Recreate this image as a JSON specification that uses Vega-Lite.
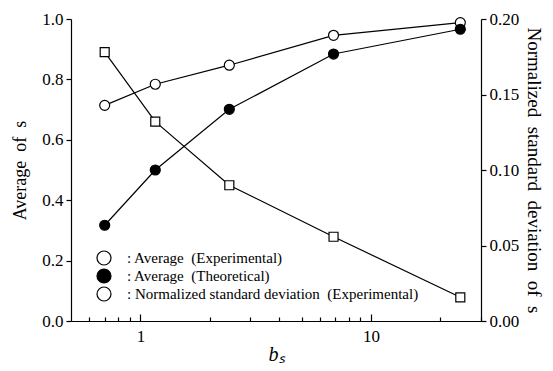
{
  "$schema": "https://vega.github.io/schema/vega-lite/v6.json",
  "autosize": {"type": "none"},
  "width": 410,
  "height": 302,
  "padding": {"left": 71, "top": 19, "right": 72, "bottom": 50},
  "background": "white",
  "config": {
    "view": {"stroke": null},
    "font": "Liberation Serif",
    "axis": {"domainColor": "black", "tickColor": "black", "labelColor": "black", "titleColor": "black", "labelFont": "Liberation Serif", "titleFont": "Liberation Serif", "labelFontSize": 17, "titleFontSize": 17, "titleFontWeight": "normal", "grid": false, "domainWidth": 1.2, "tickWidth": 1.2}
  },
  "data": {"values": [
    {"b": 0.7, "v": 0.714, "series": ": Average\u00a0 (Experimental)"},
    {"b": 1.16, "v": 0.784, "series": ": Average\u00a0 (Experimental)"},
    {"b": 2.43, "v": 0.847, "series": ": Average\u00a0 (Experimental)"},
    {"b": 6.88, "v": 0.946, "series": ": Average\u00a0 (Experimental)"},
    {"b": 24.4, "v": 0.988, "series": ": Average\u00a0 (Experimental)"},
    {"b": 0.7, "v": 0.317, "series": ": Average\u00a0 (Theoretical)"},
    {"b": 1.16, "v": 0.5, "series": ": Average\u00a0 (Theoretical)"},
    {"b": 2.43, "v": 0.701, "series": ": Average\u00a0 (Theoretical)"},
    {"b": 6.88, "v": 0.884, "series": ": Average\u00a0 (Theoretical)"},
    {"b": 24.4, "v": 0.966, "series": ": Average\u00a0 (Theoretical)"},
    {"b": 0.7, "v": 0.178, "series": ": Normalized standard deviation\u00a0 (Experimental)"},
    {"b": 1.16, "v": 0.132, "series": ": Normalized standard deviation\u00a0 (Experimental)"},
    {"b": 2.43, "v": 0.0899, "series": ": Normalized standard deviation\u00a0 (Experimental)"},
    {"b": 6.88, "v": 0.0558, "series": ": Normalized standard deviation\u00a0 (Experimental)"},
    {"b": 24.4, "v": 0.0157, "series": ": Normalized standard deviation\u00a0 (Experimental)"}
  ]},
  "encoding": {
    "x": {
      "field": "b", "type": "quantitative",
      "scale": {"type": "log", "domain": [0.5, 30], "nice": false},
      "axis": {
        "title": "b\u209b", "titleFont": "Liberation Serif", "titleFontStyle": "italic", "titleFontSize": 20, "titlePadding": 0,
        "labelFont": "Liberation Serif", "labelFontSize": 17,
        "values": [0.6, 0.7, 0.8, 0.9, 1, 2, 3, 4, 5, 6, 7, 8, 9, 10, 20, 30],
        "labelExpr": "datum.value == 1 || datum.value == 10 ? datum.label : ''",
        "tickSize": {"condition": {"test": "datum.value == 1 || datum.value == 10", "value": -7}, "value": -4},
        "labelPadding": 14,
        "labelFlush": false
      }
    }
  },
  "layer": [
    {
      "transform": [{"filter": {"field": "series", "oneOf": [": Average\u00a0 (Experimental)", ": Average\u00a0 (Theoretical)"]}}],
      "encoding": {
        "y": {"field": "v", "type": "quantitative", "scale": {"domain": [0, 1]},
          "axis": {"orient": "left", "title": "Average\u00a0 of\u00a0 s", "titleFont": "Liberation Serif", "labelFont": "Liberation Serif", "labelFontSize": 17, "titleFontSize": 18, "values": [0, 0.2, 0.4, 0.6, 0.8, 1.0], "format": ".1f", "tickSize": 5, "labelPadding": 3, "titlePadding": 12}}
      },
      "layer": [
        {"mark": {"type": "line", "color": "black", "strokeWidth": 1.2}, "encoding": {"detail": {"field": "series"}}},
        {"mark": {"type": "point", "shape": "circle", "size": 100, "stroke": "black", "strokeWidth": 1.2, "opacity": 1},
          "encoding": {"fill": {"field": "series", "type": "nominal",
            "scale": {"domain": [": Average\u00a0 (Experimental)", ": Average\u00a0 (Theoretical)", ": Normalized standard deviation\u00a0 (Experimental)"], "range": ["white", "black", "white"]},
            "legend": {
              "title": null, "orient": "none", "legendX": 25, "legendY": 231, "padding": 0,
              "symbolSize": 196, "symbolStrokeColor": "black", "symbolStrokeWidth": 1.2,
              "labelFont": "Liberation Serif", "labelFontSize": 15, "labelColor": "black", "labelOffset": 15, "rowPadding": -2, "labelLimit": 400,
              "encode": {"symbols": {"shape": {"value": {"expr": "datum.value == ': Normalized standard deviation\u00a0 (Experimental)' ? 'M-2.8,0H-0.6M0.6,0H2.8M-0.6,-0.6H0.6V0.6H-0.6Z' : 'M-2.8,0H-0.66M0.66,0H2.8M0.66,0A0.66,0.66 0 1,1 -0.66,0A0.66,0.66 0 1,1 0.66,0Z'"}}, "opacity": {"value": 1}}}
            }}}
        }
      ]
    },
    {
      "transform": [{"filter": {"field": "series", "equal": ": Normalized standard deviation\u00a0 (Experimental)"}}],
      "encoding": {
        "y": {"field": "v", "type": "quantitative", "scale": {"domain": [0, 0.2]},
          "axis": {"orient": "right", "title": "Normalized\u00a0 standard\u00a0 deviation\u00a0 of\u00a0 s", "titleFont": "Liberation Serif", "labelFont": "Liberation Serif", "labelFontSize": 17, "titleFontSize": 19, "values": [0, 0.05, 0.1, 0.15, 0.2], "format": ".2f", "tickSize": 5, "labelPadding": 3, "titlePadding": 5}}
      },
      "layer": [
        {"mark": {"type": "line", "color": "black", "strokeWidth": 1.2}, "encoding": {}},
        {"mark": {"type": "point", "shape": "square", "size": 81, "stroke": "black", "strokeWidth": 1.2, "opacity": 1},
          "encoding": {"fill": {"field": "series", "type": "nominal", "legend": null}}}
      ]
    }
  ],
  "resolve": {"scale": {"y": "independent"}}
}
